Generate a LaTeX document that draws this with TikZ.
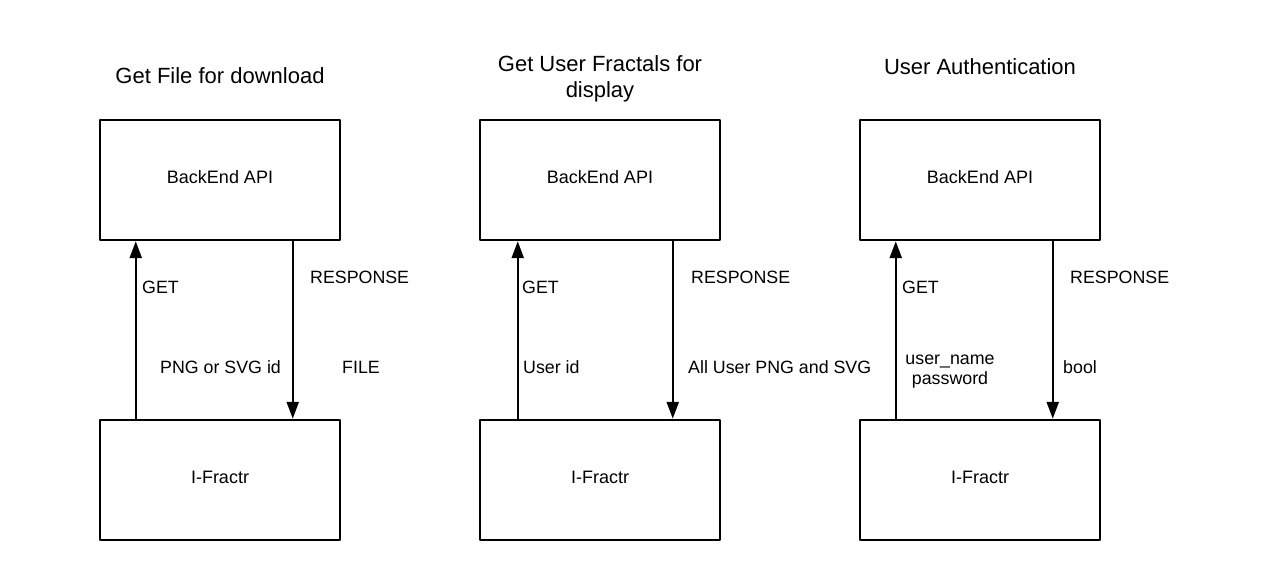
\documentclass[tikz,border=0pt]{standalone}
\usepackage{fontspec}
\setmainfont{Liberation Sans}
\usetikzlibrary{arrows.meta}
\begin{document}
\begin{tikzpicture}[x=1pt, y=-1pt, line join=round, >={Triangle[length=17pt,width=12pt]},
	box/.style={draw, line width=2.5pt, minimum width=240pt, minimum height=120pt, inner sep=0pt, text depth=6pt, font=\fontsize{18}{21}\selectfont},
	lbl/.style={anchor=base west, inner sep=0pt, font=\fontsize{17.8}{21}\selectfont},
	ttl/.style={anchor=base, inner sep=0pt, align=center, font=\fontsize{22}{26}\selectfont}]
	\useasboundingbox (0,0) rectangle (1280,580);
	\foreach \i/\x/\g in {1/220/37, 2/600/39, 3/980/37} {
		\node[box] (api\i) at (\x,180) {BackEnd API};
		\node[box] (fr\i) at (\x,480) {I-Fractr};
		\draw[->, line width=2.5pt] ([xshift=\g pt]fr\i.north west) -- ([xshift=\g pt]api\i.south west);
		\draw[->, line width=2.5pt] ([xshift=194pt]api\i.south west) -- ([xshift=194pt]fr\i.north west);
	}
	\node[ttl] (t1) at (220,84) {Get File for download};
	\node[ttl] (t2) at (600,98) {Get User Fractals for\\display};
	\node[ttl] (t3) at (980,74.5) {User Authentication};
	% labels
	\node[lbl] (get1) at (142,293.5) {GET};
	\node[lbl] (res1) at (310,283.5) {RESPONSE};
	\node[lbl] (in1) at (160,373.5) {PNG or SVG id};
	\node[lbl] (out1) at (342,373.5) {FILE};
	\node[lbl] (get2) at (522,293.5) {GET};
	\node[lbl] (res2) at (691,283.5) {RESPONSE};
	\node[lbl] (in2) at (523,373.5) {User id};
	\node[lbl] (out2) at (688,373.5) {All User PNG and SVG};
	\node[lbl] (get3) at (902,293.5) {GET};
	\node[lbl] (res3) at (1070,283.5) {RESPONSE};
	\node[lbl, anchor=base, align=center, font=\fontsize{17.8}{20}\selectfont] (in3) at (950,384) {user\_name\\password};
	\node[lbl] (out3) at (1063,373.5) {bool};
\end{tikzpicture}
\end{document}
